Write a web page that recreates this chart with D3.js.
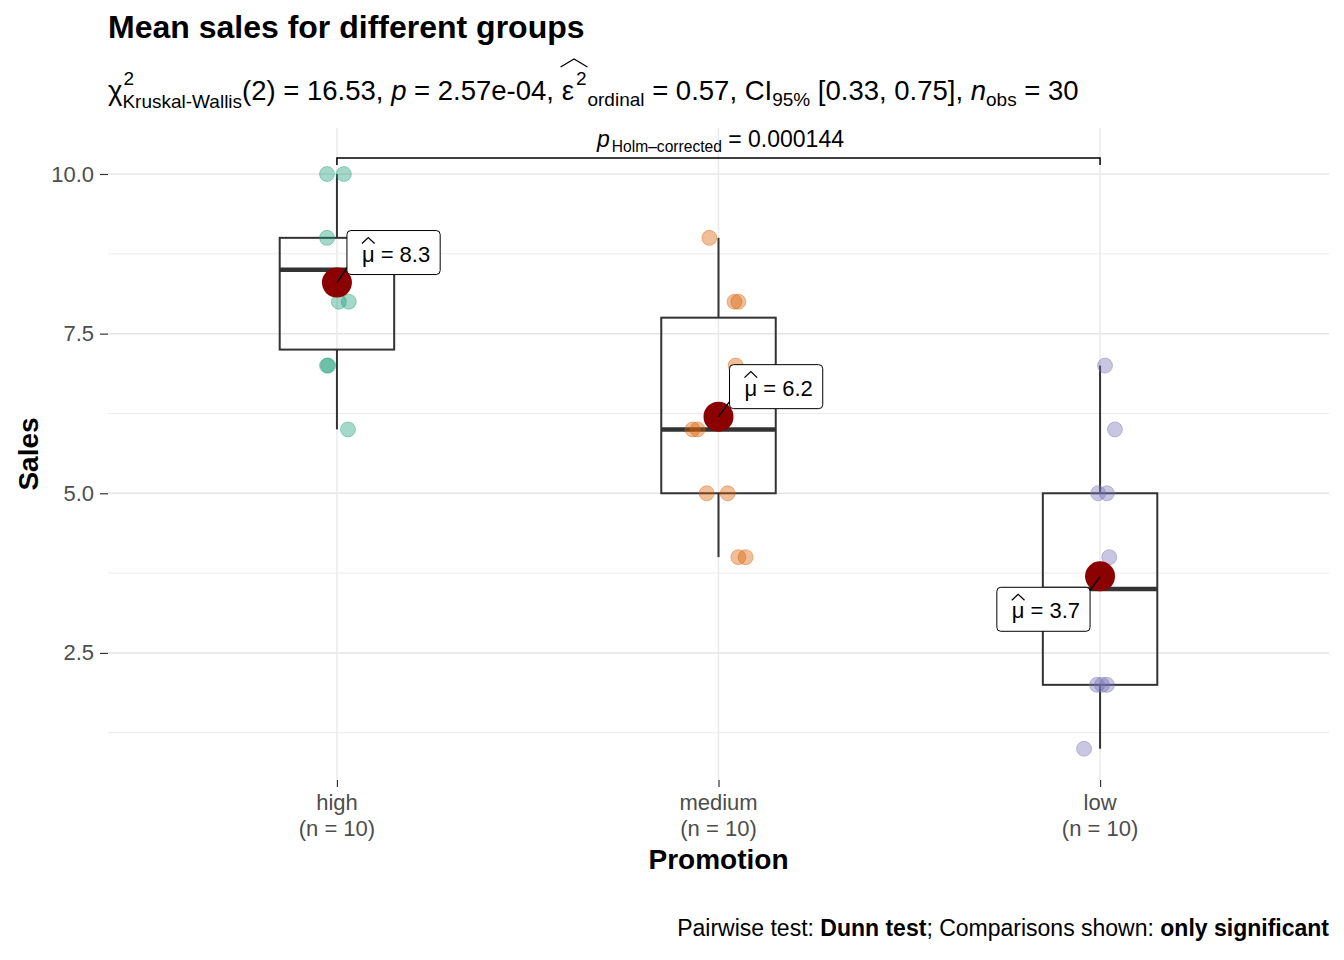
<!DOCTYPE html>
<html><head><meta charset="utf-8">
<script src="https://cdn.jsdelivr.net/npm/d3@7"></script>
<style>
body{margin:0;background:#fff;}
text{font-family:"Liberation Sans",Arial,sans-serif;}
</style></head>
<body><svg id="c" width="1344" height="960"></svg>
<script>
// ---------------- data ----------------
const categories = ["high", "medium", "low"];
const groupSizes = [10, 10, 10];
const salesHigh   = [10, 10, 9, 9, 9, 8, 8, 7, 7, 6];
const salesMedium = [9, 8, 8, 7, 6, 6, 5, 5, 4, 4];
const salesLow    = [7, 6, 5, 5, 4, 3, 2, 2, 2, 1];
// horizontal jitter of each point, in category units
const jitterHigh   = [-0.026, 0.018, -0.026, 0.055, 0.07, 0.005, 0.031, -0.026, -0.023, 0.029];
const jitterMedium = [-0.024, 0.042, 0.052, 0.045, -0.068, -0.055, -0.031, 0.024, 0.052, 0.071];
const jitterLow    = [0.013, 0.039, -0.005, 0.018, 0.024, -0.05, -0.008, 0.005, 0.018, -0.042];
const yTicks = [2.5, 5.0, 7.5, 10.0];
const yMinorTicks = [1.25, 3.75, 6.25, 8.75];
const colors = ["#1B9E77", "#D95F02", "#7570B3"];
const titleText = "Mean sales for different groups";
const pairP = "0.000144";

const groups = [salesHigh, salesMedium, salesLow];
const jitters = [jitterHigh, jitterMedium, jitterLow];

// ---------------- layout ----------------
const svg = d3.select("#c");
const L = 108, R = 1329, T = 128, B = 780;
const x = d3.scalePoint().domain(categories).range([L, R]).padding(0.6);
const step = x.step();
const y = d3.scaleLinear().domain([0.51, 10.72]).range([B, T]);

// grid
const grid = svg.append("g");
grid.selectAll(".mi").data(yMinorTicks).join("line")
  .attr("x1", L).attr("x2", R).attr("y1", d => y(d)).attr("y2", d => y(d))
  .attr("stroke", "#ebebeb").attr("stroke-width", 1);
grid.selectAll(".ma").data(yTicks).join("line")
  .attr("x1", L).attr("x2", R).attr("y1", d => y(d)).attr("y2", d => y(d))
  .attr("stroke", "#e6e6e6").attr("stroke-width", 1.5);
grid.selectAll(".v").data(categories).join("line")
  .attr("x1", d => x(d)).attr("x2", d => x(d)).attr("y1", T).attr("y2", B)
  .attr("stroke", "#ebebeb").attr("stroke-width", 1.5);

// axes
const ya = svg.append("g").attr("transform", `translate(${L},0)`)
  .call(d3.axisLeft(y).tickValues(yTicks).tickFormat(d3.format(".1f")).tickSize(8).tickPadding(6));
ya.select(".domain").remove();
ya.selectAll("line").attr("stroke", "#333").attr("stroke-width", 1.2);
ya.selectAll("text").style("font-size", "22px").attr("fill", "#4d4d4d");

const xa = svg.append("g").attr("transform", `translate(0,${B})`)
  .call(d3.axisBottom(x).tickSize(7).tickFormat(""));
xa.select(".domain").remove();
xa.selectAll("line").attr("stroke", "#333").attr("stroke-width", 1.2);
categories.forEach((c, i) => {
  const t = svg.append("text").attr("x", x(c)).attr("text-anchor", "middle")
    .style("font-size", "22px").attr("fill", "#4d4d4d");
  t.append("tspan").attr("x", x(c)).attr("y", 810).text(c);
  t.append("tspan").attr("x", x(c)).attr("y", 836).text(`(n = ${groupSizes[i]})`);
});

// boxplots
const bw = 0.3 * step;
const stats = groups.map(v => {
  const s = v.slice().sort(d3.ascending);
  const q1 = d3.quantile(s, 0.25), med = d3.quantile(s, 0.5), q3 = d3.quantile(s, 0.75);
  const iqr = q3 - q1;
  const lo = d3.min(s.filter(d => d >= q1 - 1.5 * iqr));
  const hi = d3.max(s.filter(d => d <= q3 + 1.5 * iqr));
  return {q1, med, q3, lo, hi, mean: d3.mean(s)};
});
const bx = svg.append("g");
stats.forEach((s, i) => {
  const cx = x(categories[i]);
  bx.append("line").attr("x1", cx).attr("x2", cx).attr("y1", y(s.hi)).attr("y2", y(s.q3))
    .attr("stroke", "#333").attr("stroke-width", 2);
  bx.append("line").attr("x1", cx).attr("x2", cx).attr("y1", y(s.q1)).attr("y2", y(s.lo))
    .attr("stroke", "#333").attr("stroke-width", 2);
  bx.append("rect").attr("x", cx - bw / 2).attr("width", bw).attr("y", y(s.q3))
    .attr("height", y(s.q1) - y(s.q3)).attr("fill", "none").attr("stroke", "#333").attr("stroke-width", 2);
  bx.append("line").attr("x1", cx - bw / 2).attr("x2", cx + bw / 2).attr("y1", y(s.med)).attr("y2", y(s.med))
    .attr("stroke", "#333").attr("stroke-width", 4.5);
});

// jittered points
groups.forEach((v, i) => {
  svg.append("g").selectAll("circle").data(v).join("circle")
    .attr("cx", (d, j) => x(categories[i]) + jitters[i][j] * step)
    .attr("cy", d => y(d)).attr("r", 7.5)
    .attr("fill", colors[i]).attr("fill-opacity", 0.4)
    .attr("stroke", colors[i]).attr("stroke-opacity", 0.4).attr("stroke-width", 1);
});

// means
const labelPos = [{dx: 10, dy: -52, side: "r"}, {dx: 11, dy: -52, side: "r"}, {dx: -10, dy: 11, side: "l"}];
stats.forEach((s, i) => {
  const cx = x(categories[i]), cy = y(s.mean);
  svg.append("circle").attr("cx", cx).attr("cy", cy).attr("r", 15).attr("fill", "#8B0000");
});
stats.forEach((s, i) => {
  const cx = x(categories[i]), cy = y(s.mean);
  const g = svg.append("g");
  const tmp = g.append("text").style("font-size", "22px").style("white-space", "pre").text("= " + d3.format(".1f")(s.mean));
  const tw = tmp.node().getComputedTextLength();
  const mu = g.append("text").style("font-size", "22px").text("μ");
  const mw = mu.node().getComputedTextLength();
  const W = 15 + mw + 6 + tw + 10, H = 44;
  const p = labelPos[i];
  const left = p.side === "r" ? cx + p.dx : cx + p.dx - W;
  const top = cy + p.dy;
  const ex = p.side === "r" ? left : left + W;
  const ey = p.side === "r" ? top + H - 7 : top + 3;
  g.insert("line", "text").attr("x1", cx).attr("y1", cy).attr("x2", ex).attr("y2", ey)
    .attr("stroke", "#000").attr("stroke-width", 1.3);
  g.insert("rect", "text").attr("x", left).attr("y", top).attr("width", W).attr("height", H)
    .attr("rx", 4).attr("fill", "#fff").attr("stroke", "#000").attr("stroke-width", 1);
  mu.attr("x", left + 15).attr("y", top + 31);
  tmp.attr("x", left + 15 + mw + 6).attr("y", top + 31);
  g.append("path").attr("d", `M${left + 15},${top + 13}L${left + 15 + mw / 2},${top + 7}L${left + 15 + mw},${top + 13}`)
    .attr("fill", "none").attr("stroke", "#000").attr("stroke-width", 1.3);
});

// significance bracket
const x1b = x(categories[0]), x2b = x(categories[2]), yb = 158;
svg.append("path").attr("d", `M${x1b},${yb + 7}V${yb}H${x2b}V${yb + 7}`)
  .attr("fill", "none").attr("stroke", "#000").attr("stroke-width", 1.5);
{
  const g = svg.append("g");
  const put = (str, xx, yy, size, it) => {
    const t = g.append("text").attr("x", xx).attr("y", yy).style("font-size", size + "px")
      .style("white-space", "pre").text(str);
    if (it) t.style("font-style", "italic");
    return t.node().getComputedTextLength();
  };
  let cx = 0;
  cx += put("p", cx, 0, 23, true) + 2;
  cx += put("Holm–corrected", cx, 5, 15.6);
  cx += put(" = " + pairP, cx, 0, 23);
  g.attr("transform", `translate(${(x1b + x2b) / 2 + 2 - cx / 2},147)`);
}

// titles
svg.append("text").attr("x", L).attr("y", 38).style("font-size", "32px").style("font-weight", "bold").text(titleText);
{
  const g = svg.append("g");
  const put = (str, xx, yy, size, it) => {
    const t = g.append("text").attr("x", xx).attr("y", yy).style("font-size", size + "px")
      .style("white-space", "pre").text(str);
    if (it) t.style("font-style", "italic");
    return t.node().getComputedTextLength();
  };
  const Bs = 100, F = 27.5, S = 19;
  let cx = 108, w1, w2;
  cx += put("χ", cx, Bs, F);
  w1 = put("2", cx + 1, Bs - 15, S); w2 = put("Kruskal-Wallis", cx, Bs + 8, S);
  cx += Math.max(w1 + 1, w2);
  cx += put("(2) = 16.53, ", cx, Bs, F);
  cx += put("p", cx, Bs, F, true);
  cx += put(" = 2.57e-04, ", cx, Bs, F);
  const ex = cx - 1;
  cx += put("ε", cx, Bs, F);
  w1 = put("2", cx + 2, Bs - 15, S);
  const hx2 = cx + w1 + 3;
  g.append("path").attr("d", `M${ex},${Bs - 33}L${(ex + hx2) / 2},${Bs - 41}L${hx2},${Bs - 33}`)
    .attr("fill", "none").attr("stroke", "#000").attr("stroke-width", 1.3);
  cx += w1 + 3;
  cx += put("ordinal", cx, Bs + 6, S);
  cx += put(" = 0.57, CI", cx, Bs, F);
  cx += put("95%", cx, Bs + 6, S);
  cx += put(" [0.33, 0.75], ", cx, Bs, F);
  cx += put("n", cx, Bs, F, true);
  cx += put("obs", cx, Bs + 6, S);
  put(" = 30", cx, Bs, F);
}

// axis titles
svg.append("text").attr("transform", `translate(38,${(T + B) / 2}) rotate(-90)`).attr("text-anchor", "middle")
  .style("font-size", "28px").style("font-weight", "bold").text("Sales");
svg.append("text").attr("x", (L + R) / 2).attr("y", 869).attr("text-anchor", "middle")
  .style("font-size", "28px").style("font-weight", "bold").text("Promotion");

// caption
{
  const t = svg.append("text").attr("x", R).attr("y", 936).attr("text-anchor", "end")
    .style("font-size", "23px").style("white-space", "pre");
  t.append("tspan").text("Pairwise test: ");
  t.append("tspan").style("font-weight", "bold").text("Dunn test");
  t.append("tspan").text("; Comparisons shown: ");
  t.append("tspan").style("font-weight", "bold").text("only significant");
}
</script></body></html>
